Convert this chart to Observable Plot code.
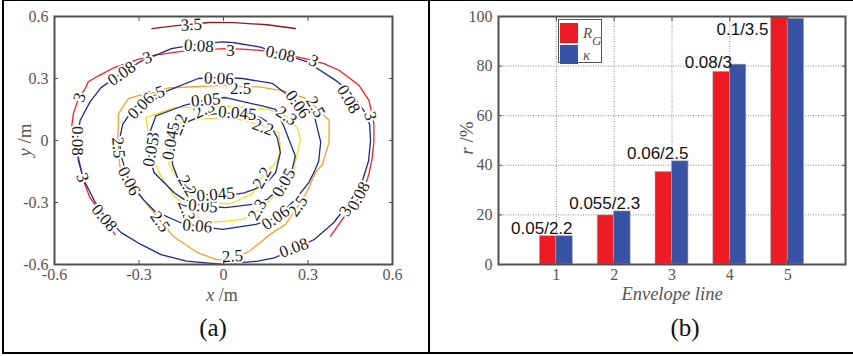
<!DOCTYPE html>
<html>
<head>
<meta charset="utf-8">
<script src="https://cdn.jsdelivr.net/npm/d3@7"></script>
<script src="https://cdn.jsdelivr.net/npm/@observablehq/plot@0.6"></script>
<style>
  body { margin: 0; background: #fff; }
  #page { position: relative; width: 853px; height: 356px; background: #fff; overflow: hidden; }
  .rule { position: absolute; background: #000; }
  .lbl { position: absolute; white-space: nowrap; line-height: 0.7; font-family: "Liberation Serif", "Times New Roman", serif; color: #555; }
  .pnl { position: absolute; white-space: nowrap; line-height: 1; font-family: "Liberation Serif", "Times New Roman", serif; color: #111; }
  #pa svg text, #pb svg .serif text { font-family: "Liberation Serif", "Times New Roman", serif; }
  #pb svg .sans text { font-family: "Liberation Sans", Arial, sans-serif; }
</style>
</head>
<body>
<div id="page">
  <div id="pa" style="position:absolute;left:0;top:0"></div>
  <div id="pb" style="position:absolute;left:430px;top:0"></div>
  <div class="rule" style="left:2px;top:0;width:851px;height:1px"></div>
  <div class="rule" style="left:2px;top:0;width:2px;height:354px"></div>
  <div class="rule" style="left:428px;top:0;width:2px;height:354px"></div>
  <div class="rule" style="left:2px;top:352px;width:851px;height:2px"></div>

  <div class="lbl" style="left:25px;top:140px;font-size:19px;transform:translate(-50%,-50%) rotate(-90deg)"><i>y</i> /m</div>
  <div class="lbl" style="left:222px;top:288.5px;font-size:18px;transform:translateX(-50%)"><i>x</i> /m</div>
  <div class="pnl" style="left:213px;top:315px;font-size:25px;transform:translateX(-50%)">(a)</div>

  <div class="lbl" style="left:467px;top:138px;font-size:19px;transform:translate(-50%,-50%) rotate(-90deg)"><i>r</i> /%</div>
  <div class="lbl" style="left:672px;top:288px;font-size:18.5px;transform:translateX(-50%)"><i>Envelope line</i></div>
  <div class="pnl" style="left:685px;top:315px;font-size:25px;transform:translateX(-50%)">(b)</div>

  <div id="legend" style="position:absolute;left:558px;top:19px;width:42px;height:42px;border:1.5px solid #555;background:#fff">
    <div style="position:absolute;left:1px;top:2.5px;width:18px;height:20px;background:#ED1C24"></div>
    <div style="position:absolute;left:1px;top:25px;width:18px;height:19px;background:#3953A4"></div>
    <div class="lbl" style="left:24px;top:6px;font-size:15px;line-height:1"><i>R</i></div>
    <div class="lbl" style="left:33px;top:14px;font-size:13px;line-height:1"><i>G</i></div>
    <div class="lbl" style="left:24px;top:28px;font-size:15px;line-height:1"><i>κ</i></div>
  </div>
</div>
<script>
// ---------- Panel (a): contour lines (x, y in metres) ----------
const xTicksA = [-0.6, -0.3, 0, 0.3, 0.6];
const yTicksA = [-0.6, -0.3, 0, 0.3, 0.6];

const c3_5 = [[-0.254,0.541],[-0.175,0.555],[-0.051,0.571],[0.037,0.570],[0.155,0.560],[0.255,0.542]];
const c3 = [[-0.385,-0.455],[-0.432,-0.358],[-0.474,-0.277],[-0.497,-0.196],[-0.515,-0.083],[-0.533,-0.002],[-0.539,0.065],[-0.533,0.130],[-0.515,0.203],[-0.491,0.251],[-0.480,0.284],[-0.444,0.313],[-0.388,0.353],[-0.303,0.392],[-0.244,0.413],[-0.137,0.434],[0.004,0.445],[0.068,0.442],[0.155,0.434],[0.286,0.397],[0.357,0.372],[0.410,0.340],[0.481,0.267],[0.516,0.195],[0.527,0.130],[0.534,0.082],[0.534,-0.007],[0.528,-0.083],[0.516,-0.164],[0.497,-0.245],[0.462,-0.309],[0.422,-0.382],[0.380,-0.463]];
const c2_5 = [[-0.373,0.065],[-0.376,0.014],[-0.373,-0.035],[-0.368,-0.124],[-0.317,-0.237],[-0.255,-0.334],[-0.222,-0.393],[-0.179,-0.463],[-0.090,-0.544],[-0.025,-0.576],[0.032,-0.576],[0.091,-0.536],[0.173,-0.447],[0.220,-0.406],[0.264,-0.317],[0.298,-0.245],[0.326,-0.156],[0.351,-0.116],[0.375,-0.007],[0.375,0.098],[0.327,0.162],[0.285,0.208],[0.214,0.240],[0.127,0.259],[0.061,0.261],[-0.002,0.267],[-0.197,0.254],[-0.246,0.232],[-0.297,0.219],[-0.338,0.203],[-0.373,0.130]];
const c2_3 = [[-0.276,0.111],[-0.175,0.159],[-0.081,0.162],[0.008,0.167],[0.161,0.151],[0.220,0.119],[0.261,0.062],[0.273,0.006],[0.261,-0.067],[0.250,-0.140],[0.214,-0.229],[0.179,-0.269],[0.137,-0.325],[0.102,-0.358],[0.067,-0.382],[0.008,-0.390],[-0.063,-0.398],[-0.104,-0.358],[-0.175,-0.269],[-0.222,-0.172],[-0.252,-0.083],[-0.260,-0.019],[-0.270,0.062]];
const c2_2 = [[-0.093,0.103],[0.025,0.111],[0.108,0.086],[0.155,0.065],[0.196,0.038],[0.202,-0.035],[0.191,-0.099],[0.161,-0.140],[0.137,-0.180],[0.102,-0.258],[0.025,-0.306],[-0.057,-0.301],[-0.110,-0.277],[-0.152,-0.212],[-0.193,-0.116],[-0.201,-0.035],[-0.199,0.038],[-0.152,0.086]];
const c0_08 = [[-0.509,0.097],[-0.520,-0.002],[-0.515,-0.099],[-0.494,-0.196],[-0.458,-0.293],[-0.417,-0.374],[-0.362,-0.447],[-0.293,-0.503],[-0.222,-0.552],[-0.132,-0.584],[-0.010,-0.598],[0.121,-0.584],[0.180,-0.568],[0.251,-0.527],[0.322,-0.479],[0.391,-0.398],[0.450,-0.293],[0.493,-0.196],[0.515,-0.099],[0.522,-0.002],[0.519,0.078],[0.499,0.143],[0.445,0.240],[0.398,0.291],[0.298,0.380],[0.202,0.421],[0.127,0.453],[0.037,0.473],[-0.003,0.477],[-0.090,0.466],[-0.185,0.445],[-0.297,0.380],[-0.362,0.324],[-0.435,0.256],[-0.474,0.187]];
const c0_06 = [[-0.208,0.235],[-0.090,0.300],[-0.016,0.305],[0.068,0.300],[0.174,0.276],[0.264,0.183],[0.322,0.122],[0.345,-0.007],[0.338,-0.099],[0.326,-0.140],[0.303,-0.204],[0.250,-0.293],[0.185,-0.374],[0.115,-0.406],[-0.003,-0.430],[-0.093,-0.414],[-0.152,-0.398],[-0.244,-0.342],[-0.285,-0.285],[-0.335,-0.196],[-0.362,-0.083],[-0.370,-0.002],[-0.358,0.078],[-0.317,0.159],[-0.281,0.200]];
const c0_05 = [[-0.240,0.119],[-0.146,0.167],[-0.063,0.196],[0.008,0.208],[0.137,0.167],[0.185,0.151],[0.214,0.070],[0.255,-0.075],[0.238,-0.172],[0.214,-0.212],[0.155,-0.285],[0.102,-0.309],[0.008,-0.325],[-0.073,-0.317],[-0.140,-0.285],[-0.175,-0.253],[-0.246,-0.156],[-0.264,-0.083],[-0.264,0.030]];
const c0_045 = [[-0.175,0.030],[-0.140,0.082],[-0.081,0.119],[-0.010,0.132],[0.061,0.130],[0.132,0.111],[0.161,0.086],[0.191,0.014],[0.202,-0.059],[0.185,-0.156],[0.149,-0.212],[0.108,-0.237],[0.073,-0.253],[0.025,-0.264],[-0.034,-0.264],[-0.081,-0.258],[-0.128,-0.229],[-0.163,-0.180],[-0.181,-0.116],[-0.187,-0.043]];

// contour label anchors: [x, y, angle]
const lab3_5 = [[-0.114,0.560,-3]];
const lab3 = [[-0.270,0.401,-20],[0.025,0.437,0],[0.320,0.385,25],[0.521,0.119,75],[-0.511,0.208,-70],[-0.500,-0.180,70],[0.433,-0.342,-60]];
const lab2_5 = [[0.061,0.253,0],[-0.246,0.224,-20],[0.327,0.162,60],[-0.373,-0.035,85],[-0.225,-0.393,55],[0.264,-0.317,-55],[0.032,-0.560,-5]];
const lab2_3 = [[0.224,0.119,35],[0.120,-0.335,-60],[-0.131,-0.339,70],[-0.255,-0.010,-80],[-0.069,0.150,-25]];
const lab2_2 = [[0.141,0.065,20],[0.137,-0.180,-60],[-0.158,0.078,-70],[-0.128,-0.220,60]];
const lab0_08 = [[-0.087,0.458,3],[0.202,0.418,12],[-0.362,0.324,-35],[-0.517,-0.002,90],[0.444,0.200,60],[0.480,-0.269,-62],[-0.423,-0.374,50],[0.250,-0.519,-20]];
const lab0_06 = [[-0.016,0.300,3],[0.264,0.175,55],[-0.293,0.167,-45],[-0.335,-0.196,62],[-0.093,-0.414,5],[0.185,-0.374,-35]];
const lab0_05 = [[-0.063,0.196,-5],[0.214,-0.204,-60],[-0.073,-0.317,5],[-0.258,-0.055,-80]];
const lab0_045 = [[0.049,0.132,5],[-0.028,-0.261,-5],[-0.187,-0.002,-80]];

const levels = [
  {name: "3.5",   pts: c3_5,   labels: lab3_5,   color: "#8B1A1A", closed: false},
  {name: "3",     pts: c3,     labels: lab3,     color: "#F0202A", closed: false},
  {name: "2.5",   pts: c2_5,   labels: lab2_5,   color: "#F7A12A", closed: true},
  {name: "2.3",   pts: c2_3,   labels: lab2_3,   color: "#F2E21C", closed: true},
  {name: "2.2",   pts: c2_2,   labels: lab2_2,   color: "#F2E21C", closed: true},
  {name: "0.08",  pts: c0_08,  labels: lab0_08,  color: "#1F2A8C", closed: true},
  {name: "0.06",  pts: c0_06,  labels: lab0_06,  color: "#1F2A8C", closed: true},
  {name: "0.05",  pts: c0_05,  labels: lab0_05,  color: "#1F2A8C", closed: true},
  {name: "0.045", pts: c0_045, labels: lab0_045, color: "#1F2A8C", closed: true}
];
const labelRows = levels.flatMap(L => L.labels.map(([x, y, r]) => ({x, y, r, t: L.name})));

const fmtA = d => d === 0 ? "0" : String(d);
const serif = "Liberation Serif, Times New Roman, serif";
const sans = "Liberation Sans, Arial, sans-serif";
const gray = "#555";

const plotA = Plot.plot({
  width: 430, height: 310,
  marginLeft: 54, marginRight: 38, marginTop: 16, marginBottom: 46,
  x: {domain: [-0.6, 0.6]},
  y: {domain: [-0.6, 0.6]},
  style: {background: "transparent", overflow: "visible", fontFamily: serif},
  marks: [
    ...levels.map(L => Plot.line(L.pts, {x: d => d[0], y: d => d[1], stroke: L.color, strokeWidth: 1.3,
      curve: L.closed ? "linear-closed" : "linear", clip: true})),
    Plot.text(labelRows, {x: "x", y: "y", text: "t", rotate: "r", fontFamily: serif, fontSize: 17,
      fill: "#1a1a1a", stroke: "white", strokeWidth: 4, paintOrder: "stroke"}),
    Plot.frame({stroke: "#505050", strokeWidth: 2}),
    Plot.axisX({ticks: xTicksA, anchor: "bottom", tickSize: -4, tickPadding: 8.5, tickFormat: fmtA,
      fontFamily: serif, fontSize: 16, fill: gray, stroke: "#505050", label: null}),
    Plot.axisX({ticks: xTicksA, anchor: "top", tickSize: -4, tickFormat: () => "", stroke: "#505050", label: null}),
    Plot.axisY({ticks: yTicksA, anchor: "left", tickSize: -4, tickPadding: 10, tickFormat: fmtA,
      fontFamily: serif, fontSize: 16, fill: gray, stroke: "#505050", label: null}),
    Plot.axisY({ticks: yTicksA, anchor: "right", tickSize: -4, tickFormat: () => "", stroke: "#505050", label: null})
  ]
});
document.getElementById("pa").appendChild(plotA);

// ---------- Panel (b): grouped bars ----------
const envelopeLines = [1, 2, 3, 4, 5];
const rG    = [11.4, 19.8, 37.3, 77.7, 100];
const kappa = [11.4, 21.4, 41.6, 80.6, 99.1];
const barLabels = ["0.05/2.2", "0.055/2.3", "0.06/2.5", "0.08/3", "0.1/3.5"];
const barLabelX = [0.749, 1.836, 2.753, 3.628, 4.219];
const barLabelY = [12.1, 22.4, 42.4, 79.4, 92.5];
const yTicksB = [0, 20, 40, 60, 80, 100];
const yGridB = [20, 40, 60, 80];

const barW = 0.285;
const barsR = envelopeLines.map((e, i) => ({e, v: rG[i]}));
const barsK = envelopeLines.map((e, i) => ({e, v: kappa[i]}));
const labelsB = barLabels.map((t, i) => ({t, x: barLabelX[i], y: barLabelY[i]}));

const plotB = Plot.plot({
  width: 423, height: 310,
  marginLeft: 68, marginRight: 8, marginTop: 16, marginBottom: 46,
  x: {domain: [0, 6]},
  y: {domain: [0, 100]},
  style: {background: "transparent", overflow: "visible", fontFamily: serif},
  marks: [
    Plot.gridX(envelopeLines, {stroke: "#8a8a8a", strokeOpacity: 1, strokeDasharray: "1,1.5"}),
    Plot.gridY(yGridB, {stroke: "#8a8a8a", strokeOpacity: 1, strokeDasharray: "1,1.5"}),
    Plot.rect(barsR, {x1: d => d.e - barW, x2: d => d.e, y1: 0, y2: "v", fill: "#ED1C24", stroke: "#aaa", strokeWidth: 0.6}),
    Plot.rect(barsK, {x1: d => d.e, x2: d => d.e + barW, y1: 0, y2: "v", fill: "#3953A4", stroke: "#aaa", strokeWidth: 0.6}),
    Plot.text(labelsB, {x: "x", y: "y", text: "t", fontFamily: sans, fontSize: 17, fill: "#111",
      lineAnchor: "bottom", textAnchor: "middle", className: "sans"}),
    Plot.frame({stroke: "#505050", strokeWidth: 2}),
    Plot.axisX({ticks: envelopeLines, anchor: "bottom", tickSize: -4, tickPadding: 8.5, tickFormat: d => String(d),
      fontFamily: serif, fontSize: 16, fill: gray, stroke: "#505050", label: null, className: "serif"}),
    Plot.axisX({ticks: envelopeLines, anchor: "top", tickSize: -4, tickFormat: () => "", stroke: "#505050", label: null}),
    Plot.axisY({ticks: yTicksB, anchor: "left", tickSize: -4, tickPadding: 10, tickFormat: d => String(d),
      fontFamily: serif, fontSize: 16, fill: gray, stroke: "#505050", label: null, className: "serif"}),
    Plot.axisY({ticks: yTicksB, anchor: "right", tickSize: -4, tickFormat: () => "", stroke: "#505050", label: null})
  ]
});
document.getElementById("pb").appendChild(plotB);
</script>
</body>
</html>
